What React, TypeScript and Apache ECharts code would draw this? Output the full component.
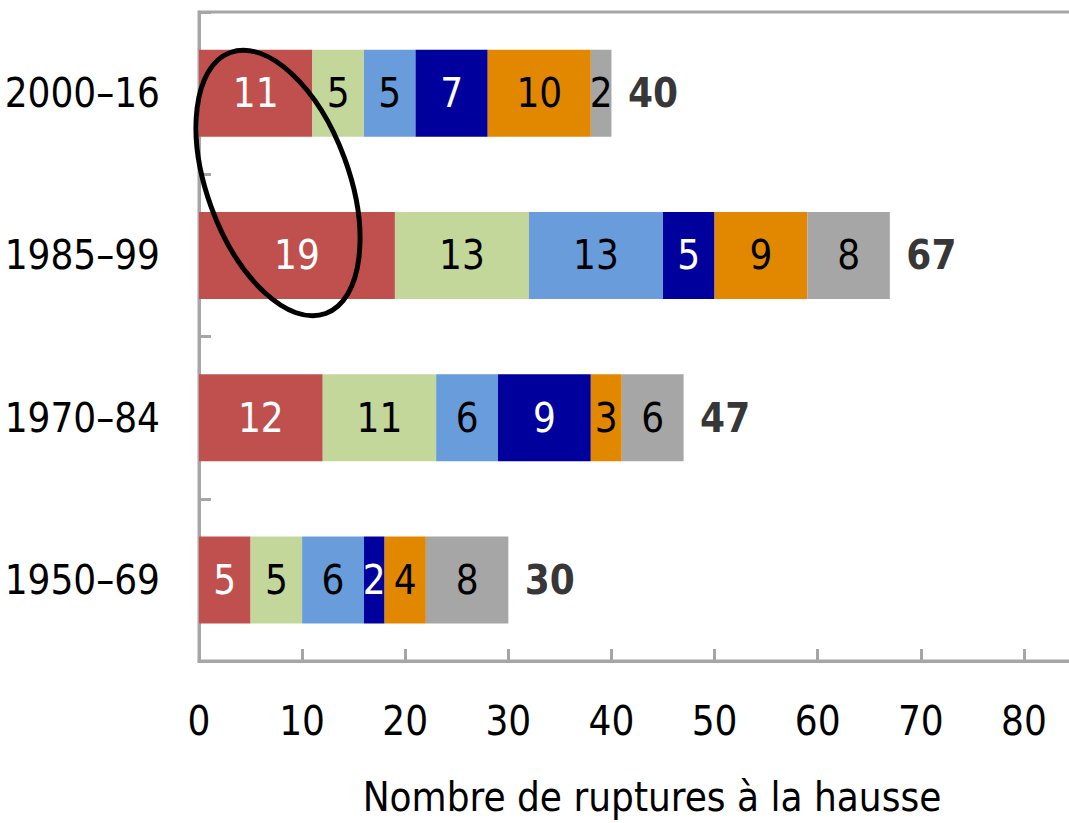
import React, { useEffect, useRef } from "react";
import * as echarts from "echarts";

const categories = ["1950–69", "1970–84", "1985–99", "2000–16"];
const seriesRed = [5, 12, 19, 11];
const seriesGreen = [5, 11, 13, 5];
const seriesBlue = [6, 6, 13, 5];
const seriesNavy = [2, 9, 5, 7];
const seriesOrange = [4, 3, 9, 10];
const seriesGray = [8, 6, 8, 2];
const totals = [30, 47, 67, 40];
const xTicks = { min: 0, max: 90, interval: 10 };
const axisTitle = "Nombre de ruptures à la hausse";

const FONT = "'Liberation Sans Narrow', 'Arial Narrow', 'DejaVu Sans Condensed', sans-serif";
const FS = 40;

export default function App() {
  const ref = useRef<HTMLDivElement>(null);
  useEffect(() => {
    if (!ref.current) return;
    const chart = echarts.init(ref.current, undefined, { renderer: "svg" });
    const mk = (name: string, data: number[], color: string, labelColor: string) => ({
      name,
      type: "bar",
      stack: "total",
      data,
      barWidth: 87,
      itemStyle: { color },
      label: {
        show: true,
        position: "inside",
        color: labelColor,
        fontSize: FS,
        fontFamily: FONT,
      },
    });
    chart.setOption({
      animation: false,
      grid: {
        left: 199,
        top: 12,
        bottom: 162,
        right: -58,
        containLabel: false,
        outerBoundsMode: "none",
        show: true,
        borderColor: "#a6a6a6",
        borderWidth: 3,
        backgroundColor: "transparent",
      },
      xAxis: {
        type: "value",
        min: xTicks.min,
        max: xTicks.max,
        interval: xTicks.interval,
        splitLine: { show: false },
        axisLine: { show: true, lineStyle: { color: "#a6a6a6", width: 3 } },
        axisTick: { show: true, inside: true, length: 12, lineStyle: { color: "#a6a6a6", width: 3 } },
        axisLabel: { color: "#000", fontSize: FS, fontFamily: FONT, margin: 40, showMaxLabel: false },
        name: axisTitle,
        nameLocation: "middle",
        nameGap: 116,
        nameTextStyle: { color: "#000", fontSize: FS, fontFamily: FONT, padding: [0, 22, 0, 0] },
      },
      yAxis: {
        type: "category",
        data: categories,
        axisLine: { show: true, lineStyle: { color: "#a6a6a6", width: 3 } },
        axisTick: { show: true, inside: true, length: 12, lineStyle: { color: "#a6a6a6", width: 3 } },
        axisLabel: { color: "#000", fontSize: FS, fontFamily: FONT, margin: 39 },
      },
      series: [
        mk("s1", seriesRed, "#c0504d", "#fff"),
        mk("s2", seriesGreen, "#c4d79b", "#000"),
        mk("s3", seriesBlue, "#689cdb", "#000"),
        mk("s4", seriesNavy, "#00009c", "#fff"),
        mk("s5", seriesOrange, "#e18800", "#000"),
        mk("s6", seriesGray, "#a6a6a6", "#000"),
        {
          name: "total",
          type: "scatter",
          data: totals.map((t, i) => [t, categories[i]]),
          symbolSize: 1,
          itemStyle: { color: "transparent" },
          label: {
            show: true,
            position: "right",
            distance: 16,
            formatter: (p: any) => String(p.value[0]),
            color: "#000",
            fontWeight: "bold",
            fontSize: FS,
            fontFamily: FONT,
          },
        },
      ],
      graphic: [
        {
          type: "ellipse",
          x: 278,
          y: 183,
          rotation: 0.35,
          shape: { cx: 0, cy: 0, rx: 71, ry: 139 },
          style: { fill: "none", stroke: "#000", lineWidth: 5 },
          z: 100,
        },
      ],
    });
    return () => chart.dispose();
  }, []);
  return (
    <div
      ref={ref}
      style={{ position: "fixed", left: 0, top: 0, width: 1069, height: 823, background: "#fff" }}
    />
  );
}
